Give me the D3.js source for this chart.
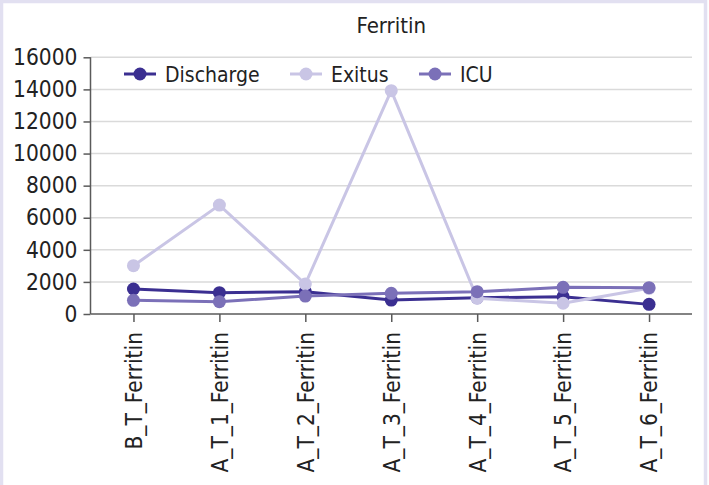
<!DOCTYPE html>
<html><head><meta charset="utf-8">
<script src="https://cdn.jsdelivr.net/npm/d3@7/dist/d3.min.js"></script>
<style>body{margin:0;background:#fff}svg{display:block}</style>
</head><body>
<svg id="c" width="709" height="485"></svg>
<script>
const categories = ["B_T_Ferritin","A_T_1_Ferritin","A_T_2_Ferritin","A_T_3_Ferritin","A_T_4_Ferritin","A_T_5_Ferritin","A_T_6_Ferritin"];
const seriesNames = ["Discharge","Exitus","ICU"];
const discharge = [1560, 1330, 1390, 870, 1010, 1080, 600];
const exitus = [3010, 6790, 1870, 13920, 980, 670, 1600];
const icu = [850, 770, 1120, 1290, 1390, 1660, 1640];
const yTicks = [0,2000,4000,6000,8000,10000,12000,14000,16000];
const colors = ["#3b2f91","#c9c5e5","#7b70b8"];
const title = "Ferritin";

(function(){
const svg = d3.select("#c");
const font = "'DejaVu Sans Condensed','DejaVu Sans',sans-serif";
// frame
svg.append("rect").attr("x",1.5).attr("y",1.5).attr("width",704).attr("height",495)
  .attr("fill","#fff").attr("stroke","#e2e0f1").attr("stroke-width",3.5);

const pL=90.5, pR=692, pT=57.3, pB=314;
const x = d3.scalePoint().domain(categories).range([pL,pR]).padding(0.5);
const y = d3.scaleLinear().domain([0,16000]).range([pB,pT]);

// grid
svg.append("g").selectAll("line").data(yTicks.filter(d=>d>0)).join("line")
  .attr("x1",pL).attr("x2",pR).attr("y1",d=>y(d)).attr("y2",d=>y(d))
  .attr("stroke","#dadada").attr("stroke-width",1.5);

// axes
const yAxis = svg.append("g").attr("transform",`translate(${pL},0)`)
  .call(d3.axisLeft(y).tickValues(yTicks).tickSize(7).tickPadding(6).tickFormat(d3.format("d")));
const xAxis = svg.append("g").attr("transform",`translate(0,${pB})`)
  .call(d3.axisBottom(x).tickSize(8).tickSizeOuter(0));
[yAxis,xAxis].forEach(g=>{
  g.select(".domain").attr("stroke","#5a5a5a").attr("stroke-width",1.5);
  g.selectAll(".tick line").attr("stroke","#5a5a5a").attr("stroke-width",1.5);
  g.selectAll("text").attr("fill","#222").attr("font-family",font);
});
yAxis.select(".domain").attr("d",`M0,${pB}V${pT}`);
yAxis.selectAll("text").attr("font-size","22.5px");
xAxis.select(".domain").attr("d",`M${pL},0H${pR}`);
xAxis.selectAll("text").attr("font-size","22.5px")
  .attr("transform","rotate(-90)").attr("text-anchor","end")
  .attr("x",-18).attr("y",0).attr("dy","0.35em");

// series
const data = [discharge, exitus, icu];
const line = d3.line().x((d,i)=>x(categories[i])).y(d=>y(d));
data.forEach((vals,si)=>{
  const g = svg.append("g");
  g.append("path").datum(vals).attr("d",line).attr("fill","none")
    .attr("stroke",colors[si]).attr("stroke-width",3);
  g.selectAll("circle").data(vals).join("circle")
    .attr("cx",(d,i)=>x(categories[i])).attr("cy",d=>y(d)).attr("r",6.5)
    .attr("fill",colors[si]);
});

// legend
const legX = [124, 290, 419];
const legY = 74;
seriesNames.forEach((n,i)=>{
  const g = svg.append("g").attr("transform",`translate(${legX[i]},${legY})`);
  g.append("line").attr("x1",0).attr("x2",32).attr("stroke",colors[i]).attr("stroke-width",3);
  g.append("circle").attr("cx",16).attr("r",6.5).attr("fill",colors[i]);
  g.append("text").attr("x",41).attr("dy","0.36em").attr("font-family",font)
    .attr("font-size","21px").attr("fill","#222").text(n);
});

// title
svg.append("text").attr("x",(pL+pR)/2).attr("y",33).attr("text-anchor","middle")
  .attr("font-family",font).attr("font-size","22px").attr("fill","#222").text(title);
})();
</script>
</body></html>
